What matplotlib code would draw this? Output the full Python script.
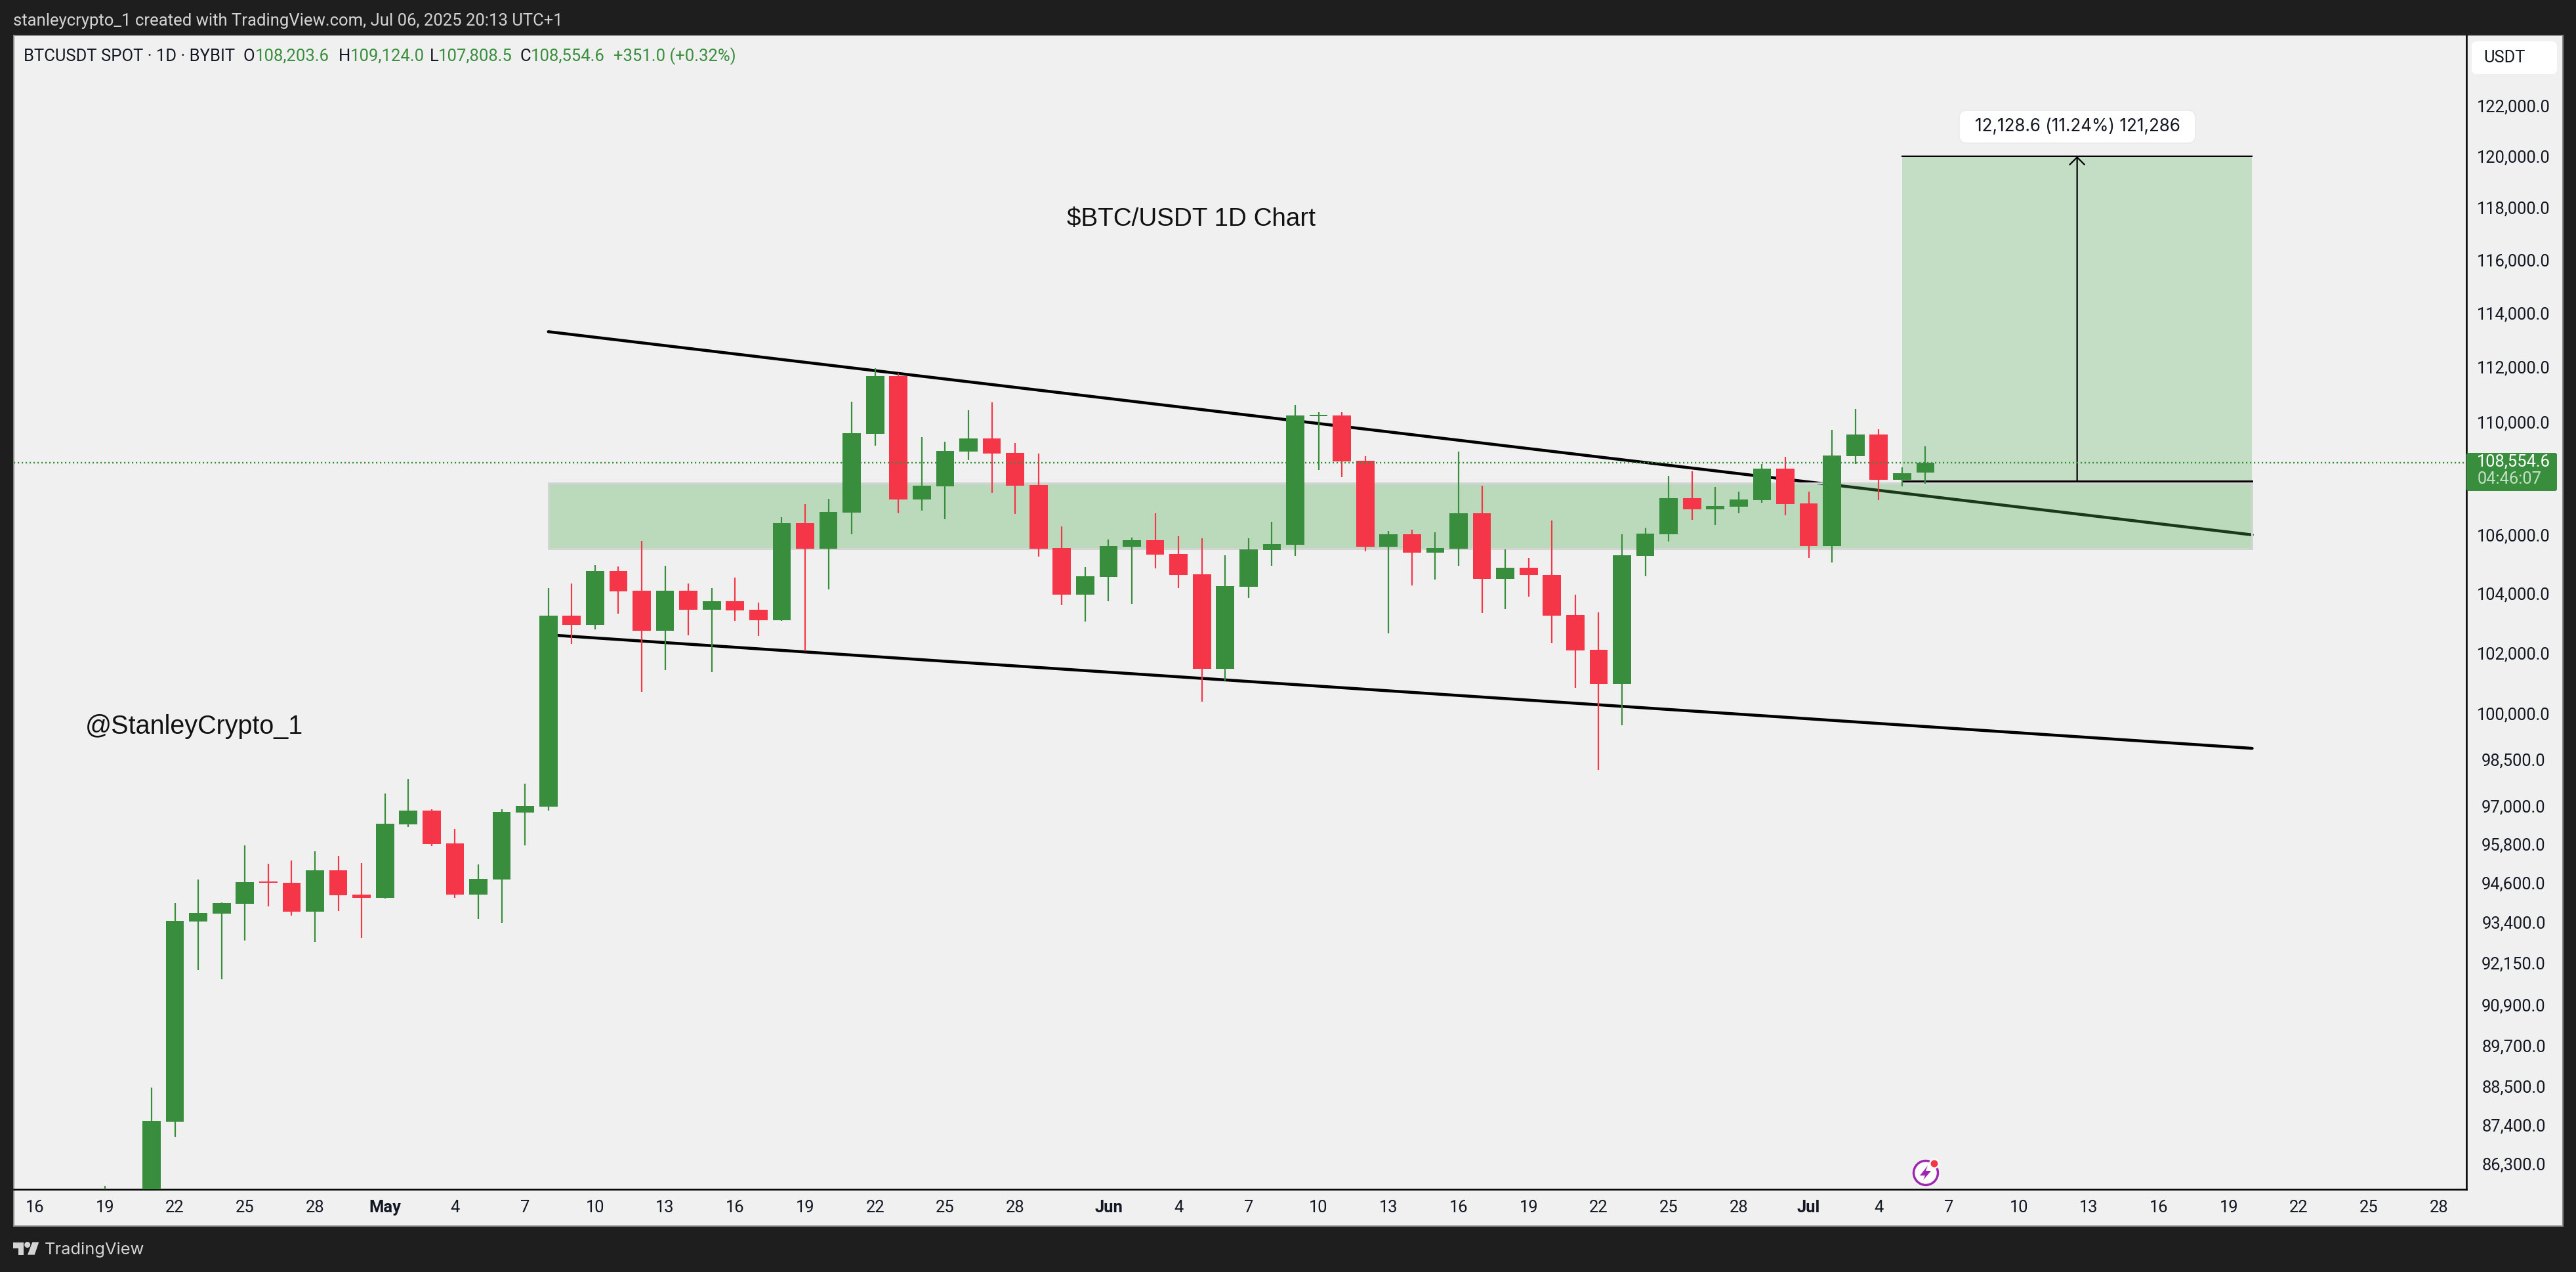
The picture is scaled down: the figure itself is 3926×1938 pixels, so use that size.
import numpy as np
import matplotlib
matplotlib.use("Agg")
import matplotlib.pyplot as plt
from matplotlib.patches import Rectangle, Circle, FancyBboxPatch, Polygon
from matplotlib.transforms import Affine2D
from matplotlib.ticker import NullLocator

W, H = 3926, 1938
UP, DOWN = "#388E3C", "#F43648"
BG, FRAME = "#F0F0F0", "#1E1E1E"

first_day = -3  # day numbers count from Apr 22
opens = [84450,85100,85150,87479,93409,93657,93960,94644,94612,93710,94991,94242,94145,96431,96865,95833,94242,94709,96809,96997,
         103248,102943,104768,104094,102742,104094,103451,103738,103451,103095,106421,105538,106793,109573,111669,107253,107710,108940,109410,108890,
         107755,105563,103966,104570,105606,105828,105355,104657,101464,104223,105495,105680,110224,110236,108618,105606,106040,105393,105536,106765,
         104497,104872,104641,103273,102095,100968,105292,106040,107299,106906,106992,107232,108332,107119,105631,108771,109554,107939,108203.6]
highs = [85661,85300,88475,93977,94709,93992,95766,95198,95293,95578,95435,95218,97408,97867,96909,96286,95175,96909,97719,104180,
         104336,104976,104924,105807,104951,104336,104180,104544,103696,106625,107093,107278,110729,111966,111771,109455,109292,110422,110710,109247,
         108867,106307,104909,105857,105918,106765,105970,105898,105312,105898,106465,110614,110352,110352,108771,106151,106192,106101,108940,107732,
         105515,105222,106518,103964,103362,106040,106260,108082,108249,107690,107528,108487,108755,107514,109719,110472,109738,108380,109124.0]
lows = [84000,83950,84700,87047,91941,91664,92834,93875,93592,92793,93733,92910,94124,96352,95744,94145,93493,93366,95766,96865,
        102302,102783,103316,100708,101421,102589,101363,103070,102562,103070,102045,104137,106031,109149,106768,106856,106565,108639,107482,106740,
        105268,103604,103052,103738,103639,104846,104173,100379,101079,103847,104951,105292,108290,108041,105443,102651,104275,104477,104951,103343,
        103473,103895,102323,100838,98166,99610,104586,105787,106541,106352,106761,107138,106696,105227,105063,108505,107232,107711,107808.5]
closes = [85100,85150,87503,93430,93678,93982,94622,94612,93710,94991,94222,94145,96455,96865,95810,94242,94731,96832,97008,103248,
          102943,104768,104068,102742,104094,103451,103738,103424,103095,106421,105538,106812,109598,111669,107253,107738,108959,109410,108867,107738,
          105538,103966,104586,105624,105828,105333,104635,101464,104255,105515,105698,110236,110257,108588,105606,106040,105393,105565,106765,104497,
          104872,104621,103252,102078,100968,105312,106060,107299,106909,107020,107251,108332,107089,105631,108804,109554,107939,108171,108554.6]

price_ticks = [122000,120000,118000,116000,114000,112000,110000,106000,104000,102000,100000,98500,97000,95800,94600,
               93400,92150,90900,89700,88500,87400,86300]
date_tick_days = [-6,-3,0,3,6,9,12,15,18,21,24,27,30,33,36,40,43,46,49,52,55,58,61,64,67,70,73,76,79,82,85,88,91,94,97]
date_tick_labels = ["16","19","22","25","28","May","4","7","10","13","16","19","22","25","28","Jun","4","7","10","13",
                    "16","19","22","25","28","Jul","4","7","10","13","16","19","22","25","28"]
month_labels = ["May","Jun","Jul"]

upper_line_days, upper_line_prices = [16, 89], [113302, 106013]
lower_line_days, lower_line_prices = [16, 89], [102600, 98858]
zone_days, zone_prices = [16, 89], [105527, 107817]
target_days, target_prices = [74, 89], [107902, 120000]
arrow_day = 81.5
last_price = 108554.6

def P(px):  # pixels to points at dpi 100
    return px * 0.72

fig = plt.figure(figsize=(W/100, H/100), dpi=100, facecolor=FRAME)
px = Affine2D().scale(1, -1).translate(0, H)

fig.add_artist(Rectangle((21, 54), 3884.5, 1813.5, transform=px, facecolor=BG, edgecolor="#8A8A8A", linewidth=P(2), zorder=-5))

L, R, T, B = 21, 3759, 54, 1812
ax = fig.add_axes([L/W, 1-B/H, (R-L)/W, (B-T)/H], facecolor=BG)
ax.patch.set_alpha(0)
ax.set_yscale("log")
ax.set_xlim(-6.905, 98.18)
ax.set_ylim(85572, 124838)

days = np.arange(len(closes)) + first_day
o, h, l, c = map(np.array, (opens, highs, lows, closes))
colors = np.where(c >= o, UP, DOWN)

# drawings
ax.plot(upper_line_days, upper_line_prices, color="black", lw=P(4.5), solid_capstyle="round", zorder=2)
ax.plot(lower_line_days, lower_line_prices, color="black", lw=P(4.5), solid_capstyle="round", zorder=2)
ax.add_patch(Rectangle((zone_days[0], zone_prices[0]), zone_days[1]-zone_days[0], zone_prices[1]-zone_prices[0],
                       facecolor=(0.298, 0.686, 0.314, 0.33), edgecolor="#D2D4D2", linewidth=P(3), zorder=2.5))
ax.add_patch(Rectangle((target_days[0], target_prices[0]), target_days[1]-target_days[0], target_prices[1]-target_prices[0],
                       facecolor=(0.298, 0.686, 0.314, 0.27), edgecolor="none", zorder=1))
ax.plot(target_days, [target_prices[1]]*2, color="black", lw=P(2), zorder=2)
ax.plot(target_days, [target_prices[0]]*2, color="black", lw=P(3), zorder=2)
ax.annotate("", xy=(arrow_day, target_prices[1]), xytext=(arrow_day, target_prices[0]),
            arrowprops=dict(arrowstyle="->,head_length=0.4,head_width=0.4", color="black", lw=P(2.2),
                            mutation_scale=P(28), shrinkA=0, shrinkB=0), zorder=2)

# candles
ax.vlines(days, l, h, colors=colors, linewidth=P(2.2), zorder=3)
ax.bar(days, np.abs(c-o), bottom=np.minimum(o, c), width=0.78, color=colors, linewidth=0, zorder=3.2)
ax.axhline(last_price, color=UP, lw=P(2.4), linestyle=(0, (0.9, 1.6)), zorder=4, dash_capstyle="butt")

# axes
for s in ("top", "left"):
    ax.spines[s].set_visible(False)
for s in ("bottom", "right"):
    ax.spines[s].set_linewidth(P(2.6))
    ax.spines[s].set_color("black")
ax.yaxis.set_minor_locator(NullLocator())
ax.yaxis.tick_right()
ax.set_yticks(price_ticks)
ax.set_yticklabels([f"{v:,.1f}" for v in price_ticks], fontfamily="Roboto", fontsize=P(25.5), color="#131722", ha="center")
ax.tick_params(axis="y", which="both", length=0, pad=P(72))
ax.set_xticks(date_tick_days)
ax.set_xticklabels(date_tick_labels, fontfamily="Roboto", fontsize=P(25.5), color="#131722")
for t in ax.get_xticklabels():
    if t.get_text() in month_labels:
        t.set_fontweight("bold")
ax.tick_params(axis="x", length=0, pad=P(16))

def txt(x, y, s, size, color="#131722", ha="left", family="Roboto", **kw):
    return fig.text(x, y, s, transform=px, fontsize=P(size), color=color, ha=ha, va="center",
                    family=family, parse_math=False, **kw)

# header
txt(20, 32, "stanleycrypto_1 created with TradingView.com, Jul 06, 2025 20:13 UTC+1", 25.6, color="#D4D4D4")
legend_y = 86
txt(36, legend_y, "BTCUSDT SPOT · 1D · BYBIT", 25.6)
for lx, s, col in [(371, "O", "#131722"), (389, "108,203.6", UP), (516, "H", "#131722"), (534, "109,124.0", UP),
                   (655, "L", "#131722"), (668, "107,808.5", UP), (792, "C", "#131722"), (809, "108,554.6", UP),
                   (935, "+351.0 (+0.32%)", UP)]:
    txt(lx, legend_y, s, 25.6, color=col)

# annotations
txt(1815, 334, "$BTC/USDT 1D Chart", 38.6, color="#111111", ha="center", family="Liberation Sans")
txt(130, 1107, "@StanleyCrypto_1", 39.5, color="#111111", family="Liberation Sans")

# measure label
fig.add_artist(FancyBboxPatch((2994, 176), 344, 34, boxstyle="round,pad=8,rounding_size=12", transform=px,
                              facecolor="white", edgecolor="#E6E6E6", linewidth=P(1.2), zorder=6))
txt(3166, 193, "12,128.6 (11.24%) 121,286", 26, ha="center", family="Inter", zorder=7)

# price scale chips
fig.add_artist(FancyBboxPatch((3773, 69), 118, 38, boxstyle="round,pad=6,rounding_size=8", transform=px,
                              facecolor="white", edgecolor="none", zorder=6))
txt(3785, 88, "USDT", 25.5, zorder=7)
fig.add_artist(FancyBboxPatch((3761, 692), 134, 54, boxstyle="round,pad=2,rounding_size=3", transform=px,
                              facecolor=UP, edgecolor="none", zorder=6))
txt(3831, 704, "108,554.6", 25.5, color="white", ha="center", zorder=7)
txt(3776, 730, "04:46:07", 25.5, color="#C6E0C7", zorder=7)

# lightning icon
fig.add_artist(Circle((2935, 1787), 21, transform=px, facecolor="white", edgecolor="none", zorder=6))
fig.add_artist(Circle((2935, 1787), 18.5, transform=px, facecolor="none", edgecolor="#9C27B0", linewidth=P(3.5), zorder=6.1))
fig.add_artist(Polygon([(2938, 1776), (2926, 1791), (2934, 1791), (2931, 1798), (2943, 1784), (2935, 1784)],
                       transform=px, facecolor="#9C27B0", edgecolor="none", zorder=6.2))
fig.add_artist(Circle((2948, 1773), 8, transform=px, facecolor="white", edgecolor="none", zorder=6.3))
fig.add_artist(Circle((2948, 1773), 5.5, transform=px, facecolor="#F23645", edgecolor="none", zorder=6.4))

# footer logo
for pts in ([(20, 1892.5), (36, 1892.5), (36, 1911.7), (27.5, 1911.7), (27.5, 1901.5), (20, 1901.5)],
            [(49.3, 1892.5), (59.3, 1892.5), (52.7, 1911.7), (42, 1911.7)]):
    fig.add_artist(Polygon(pts, transform=px, facecolor="#D4D4D4", edgecolor="none"))
fig.add_artist(Circle((41.7, 1896.5), 4.5, transform=px, facecolor="#D4D4D4", edgecolor="none"))
txt(67.5, 1904, "TradingView", 25.5, color="#D4D4D4", family="Inter")

fig.savefig("out.png", dpi=100, facecolor=FRAME)
